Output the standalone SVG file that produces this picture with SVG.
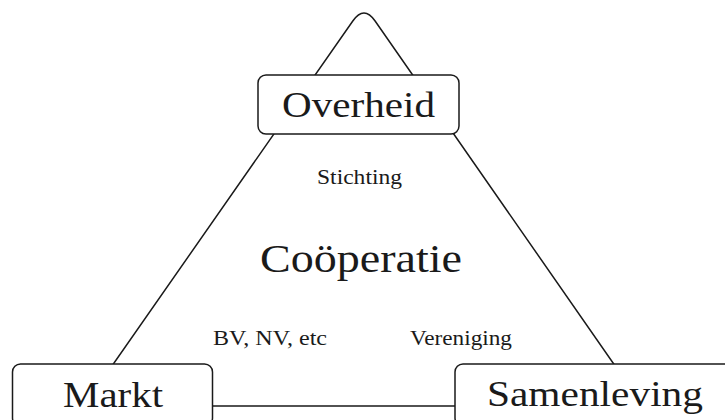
<svg xmlns="http://www.w3.org/2000/svg" width="725" height="420" viewBox="0 0 725 420">
<style>
.ln{fill:#ffffff;stroke:#1a1a1a;stroke-width:1.5;stroke-linejoin:round}
.box{fill:#ffffff;stroke:#1a1a1a;stroke-width:1.5}
.t{font-family:"Liberation Serif","Times New Roman",serif;fill:#1a1a1a}
.big{font-size:36px}
.mid{font-size:41px}
.sm{font-size:21px}
</style>
<rect width="725" height="420" fill="#ffffff"/>
<g id="connectors">
<path class="ln" d="M 84 406 L 352.8 21 Q 364 5 375.1 21 L 643 406 Z"/>
</g>
<g id="overheid">
<rect class="box" x="258" y="75" width="201" height="59" rx="8"/>
<text class="t big" x="282" y="117" textLength="153" lengthAdjust="spacingAndGlyphs">Overheid</text>
</g>
<g id="markt">
<rect class="box" x="12.5" y="364" width="200" height="62" rx="8"/>
<text class="t big" x="63" y="407" textLength="100" lengthAdjust="spacingAndGlyphs">Markt</text>
</g>
<g id="samenleving">
<rect class="box" x="455" y="364" width="285" height="62" rx="8"/>
<text class="t big" x="487" y="406" textLength="216" lengthAdjust="spacingAndGlyphs">Samenleving</text>
</g>
<g id="labels">
<text class="t mid" x="260" y="272" textLength="202" lengthAdjust="spacingAndGlyphs">Coöperatie</text>
<text class="t sm" x="317" y="184" textLength="85" lengthAdjust="spacingAndGlyphs">Stichting</text>
<text class="t sm" x="213" y="345" textLength="114" lengthAdjust="spacingAndGlyphs">BV, NV, etc</text>
<text class="t sm" x="410" y="345" textLength="102" lengthAdjust="spacingAndGlyphs">Vereniging</text>
</g>
</svg>
